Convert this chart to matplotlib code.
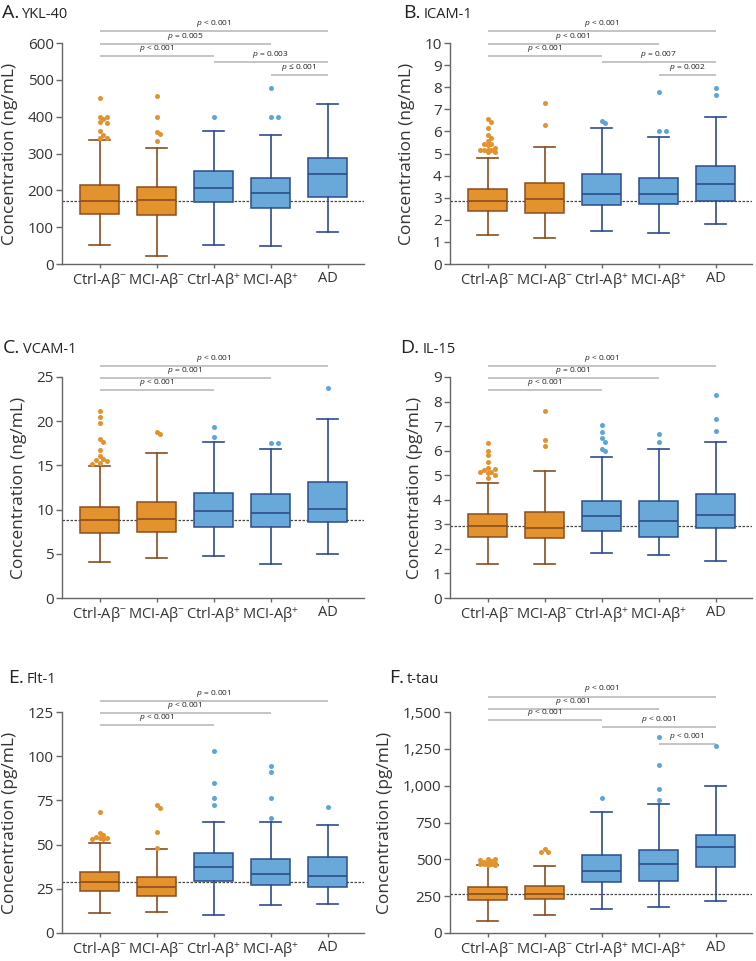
import numpy as np
import matplotlib
matplotlib.use('Agg')
import matplotlib.pyplot as plt
import matplotlib.transforms as mtrans
from matplotlib.ticker import MultipleLocator, FuncFormatter

plt.rcParams['font.family'] = ['Open Sans', 'DejaVu Sans']
plt.rcParams['mathtext.fontset'] = 'custom'
plt.rcParams['mathtext.rm'] = 'Open Sans'
plt.rcParams['mathtext.it'] = 'Open Sans:italic'
plt.rcParams['mathtext.bf'] = 'Open Sans:bold'

groups = ['Ctrl-Aβ$^{-}$', 'MCI-Aβ$^{-}$', 'Ctrl-Aβ$^{+}$', 'MCI-Aβ$^{+}$', 'AD']

# A. YKL-40 (ng/mL)
ykl_low = [52, 21, 52, 48, 86]
ykl_q1 = [137, 134, 169, 153, 183]
ykl_med = [170, 174, 205, 194, 243]
ykl_q3 = [215, 210, 252, 233, 287]
ykl_high = [338, 316, 361, 350, 434]
ykl_out = [[451, 400, 400, 394, 385, 382, 360, 350, 343, 343],
           [456, 400, 358, 352, 333],
           [400],
           [478, 400, 400],
           []]
ykl_p = [(0, 4, '<', '0.001'), (0, 3, '=', '0.005'), (0, 2, '<', '0.001'),
         (2, 4, '=', '0.003'), (3, 4, '≤', '0.001')]

# B. ICAM-1 (ng/mL)
icam_low = [1.32, 1.16, 1.49, 1.40, 1.79]
icam_q1 = [2.42, 2.30, 2.65, 2.72, 2.87]
icam_med = [2.84, 2.93, 3.16, 3.16, 3.62]
icam_q3 = [3.40, 3.68, 4.05, 3.88, 4.45]
icam_high = [4.80, 5.29, 6.14, 5.73, 6.66]
icam_out = [[6.58, 6.43, 6.15, 5.82, 5.69, 5.58, 5.42, 5.42, 5.38, 5.26,
             5.18, 5.18, 5.15, 5.15, 5.05, 5.05],
            [7.29, 6.29],
            [6.48, 6.36],
            [7.79, 6.03, 6.03],
            [7.98, 7.65]]
icam_p = [(0, 4, '<', '0.001'), (0, 3, '<', '0.001'), (0, 2, '<', '0.001'),
          (2, 4, '=', '0.007'), (3, 4, '=', '0.002')]

# C. VCAM-1 (ng/mL)
vcam_low = [4.02, 4.55, 4.70, 3.80, 5.0]
vcam_q1 = [7.33, 7.52, 8.08, 8.0, 8.6]
vcam_med = [8.83, 8.91, 9.89, 9.6, 10.07]
vcam_q3 = [10.34, 10.9, 11.84, 11.8, 13.1]
vcam_high = [14.96, 16.35, 17.67, 16.9, 20.3]
vcam_out = [[21.2, 20.5, 19.8, 18.0, 17.6, 16.7, 16.1, 15.7, 15.6, 15.5, 15.3, 15.2],
            [18.8, 18.6],
            [19.4, 18.2],
            [17.5, 17.5],
            [23.8]]
vcam_p = [(0, 4, '<', '0.001'), (0, 3, '=', '0.001'), (0, 2, '<', '0.001')]

# D. IL-15 (pg/mL)
il15_low = [1.38, 1.38, 1.83, 1.75, 1.52]
il15_q1 = [2.49, 2.46, 2.73, 2.50, 2.87]
il15_med = [2.94, 2.87, 3.33, 3.15, 3.38]
il15_q3 = [3.41, 3.52, 3.95, 3.95, 4.25]
il15_high = [4.70, 5.17, 5.74, 6.05, 6.35]
il15_out = [[6.33, 6.0, 5.82, 5.53, 5.3, 5.25, 5.2, 5.15, 5.12, 5.08, 5.02, 4.9],
            [7.6, 6.45, 6.21],
            [7.04, 6.74, 6.5, 6.36, 6.08, 5.98],
            [6.66, 6.35],
            [8.28, 7.27, 6.79]]
il15_p = [(0, 4, '<', '0.001'), (0, 3, '=', '0.001'), (0, 2, '<', '0.001')]

# E. Flt-1 (pg/mL)
flt_low = [11.1, 12.0, 10.2, 16.0, 16.4]
flt_q1 = [23.9, 21.1, 29.5, 27.1, 26.1]
flt_med = [29.1, 26.1, 37.4, 33.3, 32.3]
flt_q3 = [34.6, 31.4, 45.5, 41.7, 43.0]
flt_high = [51.1, 47.4, 62.8, 62.8, 60.9]
flt_out = [[68.5, 56.5, 55.5, 54.5, 54.0, 53.5, 53.2, 53.0],
           [72.4, 70.9, 57.3, 48.3],
           [103.2, 85.0, 76.1, 72.2],
           [94.4, 91.0, 76.5, 64.8],
           [71.2]]
flt_p = [(0, 4, '=', '0.001'), (0, 3, '<', '0.001'), (0, 2, '<', '0.001')]

# F. t-tau (pg/mL)
tau_low = [79, 120, 165, 174, 215]
tau_q1 = [223, 233, 344, 351, 446]
tau_med = [268, 267, 419, 466, 584]
tau_q3 = [313, 321, 527, 566, 667]
tau_high = [459, 457, 819, 878, 995]
tau_out = [[505, 500, 495, 490, 485, 480, 475, 470, 468, 465, 462, 460],
           [572, 548, 548],
           [916],
           [1330, 1138, 980, 900],
           [1267]]
tau_p = [(0, 4, '<', '0.001'), (0, 3, '<', '0.001'), (0, 2, '<', '0.001'),
         (2, 4, '<', '0.001'), (3, 4, '<', '0.001')]

ORANGE = '#E3922E'
ORANGE_EDGE = '#8A4E1E'
BLUE = '#68A9DA'
BLUE_EDGE = '#2E4B8D'
BLUE_DOT = '#5DA5D9'

W, H = 756, 961
fig = plt.figure(figsize=(W / 100, H / 100), dpi=100)

# axes left/top and title position, in pixels
panels = [
    dict(letter='A.', name='YKL-40', unit='ng/mL', low=ykl_low, q1=ykl_q1, med=ykl_med,
         q3=ykl_q3, high=ykl_high, out=ykl_out, p=ykl_p, ymax=600, step=100,
         left=62, top=43, tx=2, ty=18, levels=[1.054, 0.995, 0.941, 0.914, 0.855]),
    dict(letter='B.', name='ICAM-1', unit='ng/mL', low=icam_low, q1=icam_q1, med=icam_med,
         q3=icam_q3, high=icam_high, out=icam_out, p=icam_p, ymax=10, step=1,
         left=450, top=43, tx=403, ty=18, levels=[1.054, 0.995, 0.941, 0.914, 0.855]),
    dict(letter='C.', name='VCAM-1', unit='ng/mL', low=vcam_low, q1=vcam_q1, med=vcam_med,
         q3=vcam_q3, high=vcam_high, out=vcam_out, p=vcam_p, ymax=25, step=5,
         left=62, top=377, tx=3, ty=353, levels=[1.05, 0.995, 0.941]),
    dict(letter='D.', name='IL-15', unit='pg/mL', low=il15_low, q1=il15_q1, med=il15_med,
         q3=il15_q3, high=il15_high, out=il15_out, p=il15_p, ymax=9, step=1,
         left=450, top=377, tx=400, ty=353, levels=[1.05, 0.995, 0.941]),
    dict(letter='E.', name='Flt-1', unit='pg/mL', low=flt_low, q1=flt_q1, med=flt_med,
         q3=flt_q3, high=flt_high, out=flt_out, p=flt_p, ymax=125, step=25,
         left=62, top=712, tx=8, ty=683, levels=[1.05, 0.995, 0.941]),
    dict(letter='F.', name='t-tau', unit='pg/mL', low=tau_low, q1=tau_q1, med=tau_med,
         q3=tau_q3, high=tau_high, out=tau_out, p=tau_p, ymax=1500, step=250,
         left=450, top=712, tx=389, ty=683, levels=[1.07, 1.015, 0.963, 0.932, 0.855]),
]

AX_W, AX_H = 302, 221
XLIM = (-0.66, 4.64)


def swarm(vals, xppu, yppu, d=4.0, maxk=4):
    # spread overlapping outlier dots sideways (offsets in category units)
    placed = []
    offs = []
    for v in vals:
        y = v * yppu
        best, best_gap = 0.0, -1
        for k in range(maxk + 1):
            c = ((k + 1) // 2) * (1 if k % 2 else -1)
            x = c * d * 0.9
            gap = min([np.hypot(x - px, y - py) for px, py in placed] or [99])
            if gap >= d:
                best = x
                break
            if gap > best_gap:
                best, best_gap = x, gap
        placed.append((best, y))
        offs.append(best / xppu)
    return offs


renderer = fig.canvas.get_renderer()

for pn in panels:
    ax = fig.add_axes([pn['left'] / W, 1 - (pn['top'] + AX_H) / H, AX_W / W, AX_H / H])
    stats = []
    for i in range(5):
        stats.append(dict(whislo=pn['low'][i], q1=pn['q1'][i], med=pn['med'][i],
                          q3=pn['q3'][i], whishi=pn['high'][i], fliers=[]))
    for idx, face, edge in [([0, 1], ORANGE, ORANGE_EDGE), ([2, 3, 4], BLUE, BLUE_EDGE)]:
        ax.bxp([stats[i] for i in idx], positions=idx, widths=0.68, capwidths=0.38,
               patch_artist=True, showfliers=False,
               boxprops=dict(facecolor=face, edgecolor=edge, linewidth=1.1),
               whiskerprops=dict(color=edge, linewidth=1.2),
               capprops=dict(color=edge, linewidth=1.2),
               medianprops=dict(color=edge, linewidth=1.2),
               zorder=3)

    ax.axhline(pn['med'][0], color='#444444', linestyle=(0, (2.0, 1.2)),
               linewidth=0.9, zorder=2)

    xppu = AX_W / (XLIM[1] - XLIM[0])
    yppu = AX_H / pn['ymax']
    for i, vals in enumerate(pn['out']):
        if not vals:
            continue
        offs = swarm(vals, xppu, yppu)
        col = ORANGE if i < 2 else BLUE_DOT
        ax.scatter([i + o for o in offs], vals, s=13, color=col, linewidths=0,
                   zorder=4, clip_on=False)

    ax.set_xlim(*XLIM)
    ax.set_ylim(0, pn['ymax'])
    ax.yaxis.set_major_locator(MultipleLocator(pn['step']))
    if pn['ymax'] >= 1000:
        ax.yaxis.set_major_formatter(FuncFormatter(lambda v, _: f'{int(v):,}'))
    ax.set_xticks(range(5))
    ax.set_xticklabels(groups)
    for s in ['top', 'right']:
        ax.spines[s].set_visible(False)
    for s in ['left', 'bottom']:
        ax.spines[s].set_color('#666666')
        ax.spines[s].set_linewidth(1.0)
    ax.tick_params(axis='y', labelsize=11, colors='#333333', length=4,
                   width=1.0, pad=2)
    ax.tick_params(axis='x', labelsize=10.5, colors='#333333', length=3,
                   width=1.0, pad=2)
    ax.tick_params(axis='both', color='#666666')
    ax.set_ylabel(f"Concentration ({pn['unit']})", fontsize=12.5, color='#333333',
                  labelpad=7)

    tr = mtrans.blended_transform_factory(ax.transData, ax.transAxes)
    for (i, j, op, val), lvl in zip(pn['p'], pn['levels']):
        ax.plot([i, j], [lvl, lvl], transform=tr, color='#c4c4c4', linewidth=1.4,
                clip_on=False, solid_capstyle='butt')
        ax.annotate(f'$p$ {op} {val}', xy=((i + j) / 2, lvl), xycoords=tr,
                    xytext=(0, 1.5), textcoords='offset points', ha='center',
                    va='bottom', fontsize=6, color='#222222')

    t = fig.text(pn['tx'] / W, 1 - pn['ty'] / H, pn['letter'], fontsize=14,
                 color='#222222', va='baseline', ha='left')
    bb = t.get_window_extent(renderer)
    fig.text(bb.x1 / W + 3 / W, 1 - pn['ty'] / H, pn['name'], fontsize=10.5,
             color='#222222', va='baseline', ha='left')

fig.savefig('out.png', dpi=100)
